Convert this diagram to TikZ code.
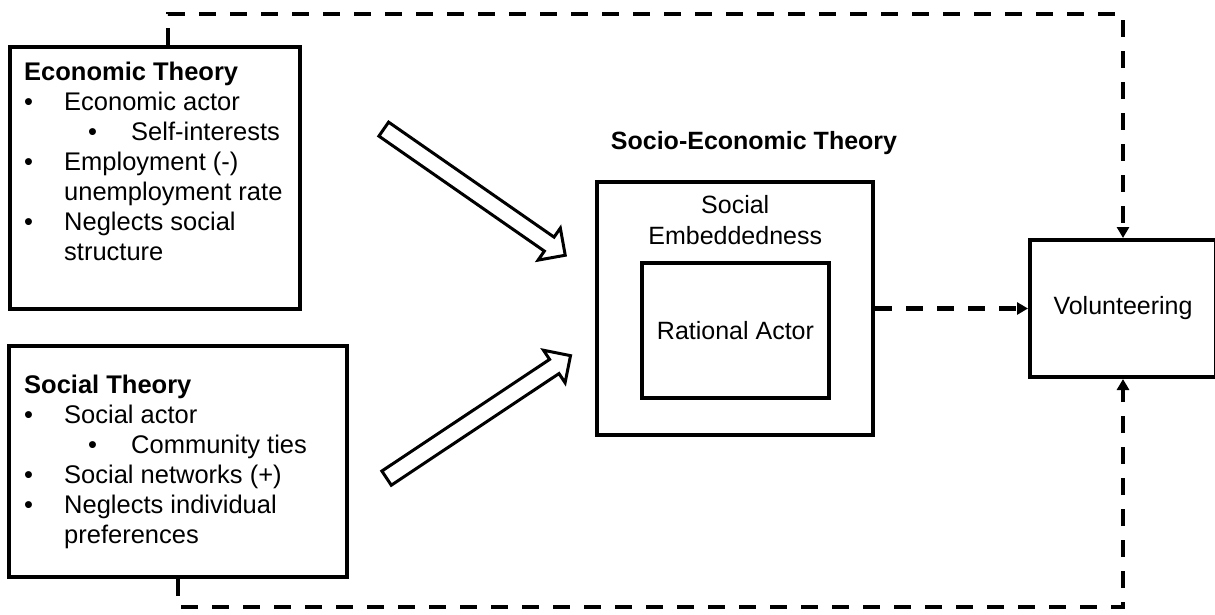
\documentclass[tikz,border=0pt]{standalone}
\usepackage{fontspec}
\setmainfont{Liberation Sans}
\usetikzlibrary{positioning,calc,arrows.meta,shapes.arrows}
\tikzset{
	theorybox/.style={draw,line width=4pt,inner sep=0pt,
		font=\fontsize{25}{30}\selectfont,align=center},
	bodytext/.style={inner sep=0pt,anchor=north west,align=left,
		font=\fontsize{25.5}{30}\selectfont},
	feedback/.style={line width=4.5pt,dash pattern=on 17pt off 14pt,
		-{Triangle[length=11pt,width=12pt]}},
	blockarrow/.style={single arrow,draw,line width=3pt,fill=white,
		inner xsep=0pt,inner ysep=7pt,minimum height=221pt,
		single arrow head extend=11pt}
}
\newcommand{\itm}{\makebox[40pt][l]{\textbullet}}
\newcommand{\subitm}{\hspace*{64pt}\makebox[43pt][l]{\textbullet}}

\begin{document}
\begin{tikzpicture}[x=1pt,y=-1pt]
	\path[use as bounding box,clip] (0,0) rectangle (1215,614);
	
	% left column: the two theories
	\node[theorybox,minimum width=290pt,minimum height=262pt] (econ) at (155,178) {};
	\node[bodytext] (econtext) at ($(econ.north west)+(16,17)$) {%
		\textbf{Economic Theory}\\
		\itm Economic actor\\
		\subitm Self-interests\\
		\itm Employment (-)\\
		\hspace*{40pt}unemployment rate\\
		\itm Neglects social\\
		\hspace*{40pt}structure};
	
	\node[theorybox,minimum width=338pt,minimum height=231pt] (soc) at (178,461.5) {};
	\node[bodytext] (soctext) at ($(soc.north west)+(17,31)$) {%
		\textbf{Social Theory}\\
		\itm Social actor\\
		\subitm Community ties\\
		\itm Social networks (+)\\
		\itm Neglects individual\\
		\hspace*{40pt}preferences};
	
	% middle: socio-economic theory
	\node[theorybox,minimum width=276pt,minimum height=253pt] (outer) at (735,308.5) {};
	\node[theorybox,minimum width=187pt,minimum height=135pt] (inner) at (735.5,330.5) {Rational Actor};
	\node[inner sep=0pt,align=center,font=\fontsize{25}{31}\selectfont] (embed)
		at ($(outer.north)!0.5!(inner.north)$) {Social\\Embeddedness};
	\node[inner sep=0pt,font=\fontsize{25}{30}\selectfont\bfseries] (setitle) at (754,143) {Socio-Economic Theory};
	
	% right: outcome
	\node[theorybox,minimum width=186pt,minimum height=137pt] (vol) at (1123,308.5) {Volunteering};
	
	\node[blockarrow,rotate=-34.8] (econarrow) at (471,189.75) {};
	\node[blockarrow,rotate=33.65] (socarrow) at (475,419.25) {};
	
	\coordinate (topturn) at (168,14);
	\coordinate (botturn) at (178,607);
	\draw[feedback] (econ.north -| topturn) -- (topturn) -| (vol.north);
	\draw[feedback] (soc.south) -- (soc.south |- botturn) -| (vol.south);
	\draw[feedback] (outer.east) -- (vol.west);
\end{tikzpicture}
\end{document}
